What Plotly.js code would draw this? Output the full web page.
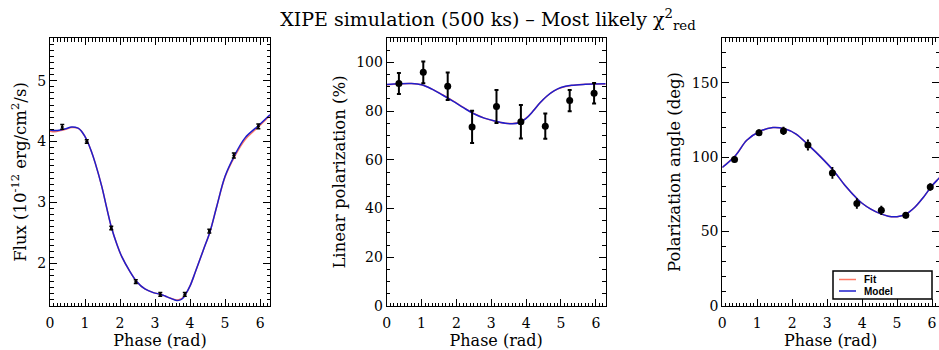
<!DOCTYPE html>
<html>
<head>
<meta charset="utf-8">
<script src="https://cdn.plot.ly/plotly-3.0.1.min.js"></script>
<style>html,body{margin:0;padding:0;background:#fff;}#chart{width:939px;height:350px;}</style>
</head>
<body>
<div id="chart"></div>
<script>
// ---- data ----
const obsPhase = [0.35, 1.05, 1.75, 2.45, 3.15, 3.85, 4.55, 5.25, 5.95];

const fluxObs = [4.24, 4.00, 2.58, 1.70, 1.49, 1.49, 2.53, 3.77, 4.25];
const fluxErr = [0.04, 0.03, 0.03, 0.03, 0.03, 0.03, 0.03, 0.04, 0.04];
const fluxCurvePhase = [0, 0.14, 0.3, 0.45, 0.62, 0.8, 0.9, 1.0, 1.07, 1.18, 1.29, 1.48, 1.62, 1.76, 1.9, 2.05, 2.28, 2.48, 2.71, 2.95, 3.17, 3.3, 3.43, 3.62, 3.72, 3.8, 3.87, 4.0, 4.14, 4.38, 4.57, 4.76, 5.0, 5.27, 5.57, 5.95, 6.2832];
const fluxModel = [4.19, 4.18, 4.19, 4.21, 4.24, 4.22, 4.17, 4.08, 4.00, 3.84, 3.65, 3.26, 2.91, 2.58, 2.33, 2.11, 1.87, 1.70, 1.58, 1.52, 1.49, 1.46, 1.43, 1.39, 1.40, 1.43, 1.49, 1.63, 1.84, 2.22, 2.52, 2.93, 3.43, 3.77, 4.06, 4.26, 4.44];
const fluxFit   = [4.17, 4.16, 4.18, 4.20, 4.23, 4.22, 4.17, 4.08, 4.00, 3.84, 3.65, 3.26, 2.91, 2.58, 2.33, 2.11, 1.87, 1.70, 1.58, 1.52, 1.49, 1.46, 1.43, 1.40, 1.41, 1.44, 1.49, 1.63, 1.84, 2.22, 2.52, 2.93, 3.42, 3.75, 4.03, 4.24, 4.43];

const polObs = [91.3, 95.9, 90.2, 73.5, 81.9, 75.6, 73.8, 84.3, 87.3];
const polErr = [4.3, 4.5, 5.6, 6.6, 6.8, 6.9, 5.2, 4.4, 4.2];
const polCurvePhase = [0, 0.35, 0.7, 1.0, 1.3, 1.6, 1.9, 2.2, 2.5, 2.8, 3.1, 3.4, 3.6, 3.8, 4.0, 4.2, 4.4, 4.6, 4.8, 5.0, 5.3, 5.7, 6.2832];
const polModel = [90.9, 91.2, 91.3, 90.8, 89.0, 86.6, 84.1, 81.4, 78.9, 77.1, 75.9, 75.0, 74.8, 75.2, 77.0, 80.0, 83.4, 86.2, 88.3, 89.7, 90.6, 91.0, 91.2];
const polFit   = [90.8, 91.1, 91.3, 90.8, 89.0, 86.7, 84.2, 81.5, 79.0, 77.1, 75.9, 75.0, 74.9, 75.3, 77.1, 80.0, 83.4, 86.2, 88.3, 89.6, 90.5, 91.0, 91.1];

const angObs = [98.4, 116.3, 117.6, 108.1, 89.4, 68.8, 64.3, 60.9, 79.9];
const angErr = [1.5, 1.7, 2.3, 3.2, 3.4, 3.0, 2.6, 1.6, 2.0];
const angCurvePhase = [0, 0.38, 0.7, 1.08, 1.45, 1.78, 2.1, 2.48, 2.8, 3.19, 3.5, 3.88, 4.0, 4.25, 4.5, 4.75, 5.0, 5.25, 5.5, 5.75, 6.0, 6.2, 6.2832];
const angModel = [93.0, 101.1, 111.3, 117.4, 119.9, 119.0, 115.6, 107.7, 100.5, 90.7, 81.3, 71.5, 69.0, 65.0, 62.2, 60.3, 60.0, 61.6, 66.1, 72.9, 80.8, 85.8, 88.0];
const angFit   = [93.1, 101.2, 111.3, 117.4, 119.9, 119.0, 115.6, 107.7, 100.5, 90.7, 81.3, 71.5, 69.0, 65.0, 62.2, 60.3, 60.0, 61.6, 66.1, 72.9, 80.8, 85.8, 88.0];

const xTitle = 'Phase (rad)';
const yTitles = ['Flux (10<sup>-12</sup> erg/cm<sup>2</sup>/s)', 'Linear polarization (%)', 'Polarization angle (deg)'];
const chartTitle = 'XIPE simulation (500 ks) \u2013 Most likely \u03c7<sup>2</sup><sub>red</sub>';
const legendNames = ['Fit', 'Model'];

// ---- styling ----
const W = 939, H = 350;
const FIT_COLOR = 'rgb(255,120,100)';
const MODEL_COLOR = 'rgb(30,30,205)';
const SERIF = 'DejaVu Serif';
const yDom = [1 - 306 / H, 1 - 38 / H];
const px = v => v / W, py = v => 1 - v / H;

function curve(x, y, name, color, xa, ya) {
  return {x: x, y: y, type: 'scatter', mode: 'lines', name: name, xaxis: xa, yaxis: ya,
    line: {color: color, width: 1.5, shape: 'spline', smoothing: 1},
    showlegend: false, hoverinfo: 'skip'};
}
function points(x, y, err, xa, ya, msize, thick, capw) {
  return {x: x, y: y, type: 'scatter', mode: 'markers', xaxis: xa, yaxis: ya, showlegend: false,
    marker: {color: 'black', size: msize},
    error_y: {type: 'data', array: err, visible: true, color: 'black', thickness: thick, width: capw}};
}
function xax(dom, range, anchor) {
  return {domain: dom, range: range, anchor: anchor, showline: true, linecolor: 'black', linewidth: 1,
    mirror: 'ticks', ticks: 'inside', ticklen: 7, tickwidth: 1, tickcolor: 'black',
    showgrid: false, zeroline: false, dtick: 1, tick0: 0, ticklabelstandoff: 4,
    tickfont: {family: SERIF, size: 14, color: 'black'},
    title: {text: xTitle, font: {family: SERIF, size: 16, color: 'black'}, standoff: 3},
    minor: {ticks: 'inside', ticklen: 3.5, tickcolor: 'black', tickwidth: 1, dtick: 0.1, showgrid: false}};
}
function yax(range, dtick, mdtick, title, anchor) {
  return {domain: yDom, range: range, anchor: anchor, showline: true, linecolor: 'black', linewidth: 1,
    mirror: 'ticks', ticks: 'inside', ticklen: 7, tickwidth: 1, tickcolor: 'black',
    showgrid: false, zeroline: false, dtick: dtick, tick0: 0,
    tickfont: {family: SERIF, size: 14, color: 'black'},
    title: {text: title, font: {family: SERIF, size: 16.5, color: 'black'}, standoff: 6},
    minor: {ticks: 'inside', ticklen: 3.5, tickcolor: 'black', tickwidth: 1, dtick: mdtick, showgrid: false}};
}

const traces = [
  curve(fluxCurvePhase, fluxFit, legendNames[0], FIT_COLOR, 'x', 'y'),
  curve(fluxCurvePhase, fluxModel, legendNames[1], MODEL_COLOR, 'x', 'y'),
  points(obsPhase, fluxObs, fluxErr, 'x', 'y', 3, 1.5, 2),
  curve(polCurvePhase, polFit, legendNames[0], FIT_COLOR, 'x2', 'y2'),
  curve(polCurvePhase, polModel, legendNames[1], MODEL_COLOR, 'x2', 'y2'),
  points(obsPhase, polObs, polErr, 'x2', 'y2', 7, 2, 2),
  curve(angCurvePhase, angFit, legendNames[0], FIT_COLOR, 'x3', 'y3'),
  curve(angCurvePhase, angModel, legendNames[1], MODEL_COLOR, 'x3', 'y3'),
  points(obsPhase, angObs, angErr, 'x3', 'y3', 7, 1.5, 1)
];

// compact legend box (Plotly's own legend cannot be made this small)
const legendShapes = [
  {type: 'rect', xref: 'paper', yref: 'paper', x0: px(833), x1: px(932), y0: py(299), y1: py(271),
    line: {color: 'black', width: 1.5}, fillcolor: 'white', layer: 'above'},
  {type: 'line', xref: 'paper', yref: 'paper', x0: px(839), x1: px(856), y0: py(279.5), y1: py(279.5),
    line: {color: FIT_COLOR, width: 1.5}, layer: 'above'},
  {type: 'line', xref: 'paper', yref: 'paper', x0: px(839), x1: px(856), y0: py(291), y1: py(291),
    line: {color: MODEL_COLOR, width: 1.5}, layer: 'above'}
];
const legendTexts = legendNames.map((n, i) => ({
  xref: 'paper', yref: 'paper', x: px(862), y: py(i === 0 ? 279.5 : 291), xanchor: 'left', yanchor: 'middle',
  text: '<b>' + n + '</b>', showarrow: false,
  font: {family: 'Liberation Sans', size: 10, color: 'black'}
}));

const layout = {
  width: W, height: H,
  margin: {l: 0, r: 0, t: 0, b: 0},
  paper_bgcolor: 'white', plot_bgcolor: 'white',
  font: {family: SERIF, color: 'black'},
  title: {text: chartTitle, font: {family: SERIF, size: 19, color: 'black'},
    x: 488 / W, xanchor: 'center', xref: 'container', y: 1 - 19 / H, yanchor: 'middle', yref: 'container'},
  xaxis: xax([50 / W, 270 / W], [0, 2 * Math.PI], 'y'),
  yaxis: yax([1.3, 5.7], 1, 0.1, yTitles[0], 'x'),
  xaxis2: xax([386.7 / W, 605.7 / W], [0, 2 * Math.PI], 'y2'),
  yaxis2: yax([0, 110], 20, 5, yTitles[1], 'x2'),
  xaxis3: xax([722.3 / W, 1], [0, 6.2], 'y3'),
  yaxis3: yax([0, 180], 50, 10, yTitles[2], 'x3'),
  showlegend: false,
  shapes: legendShapes,
  annotations: legendTexts
};

Plotly.newPlot('chart', traces, layout, {staticPlot: true, displayModeBar: false});
</script>
</body>
</html>
